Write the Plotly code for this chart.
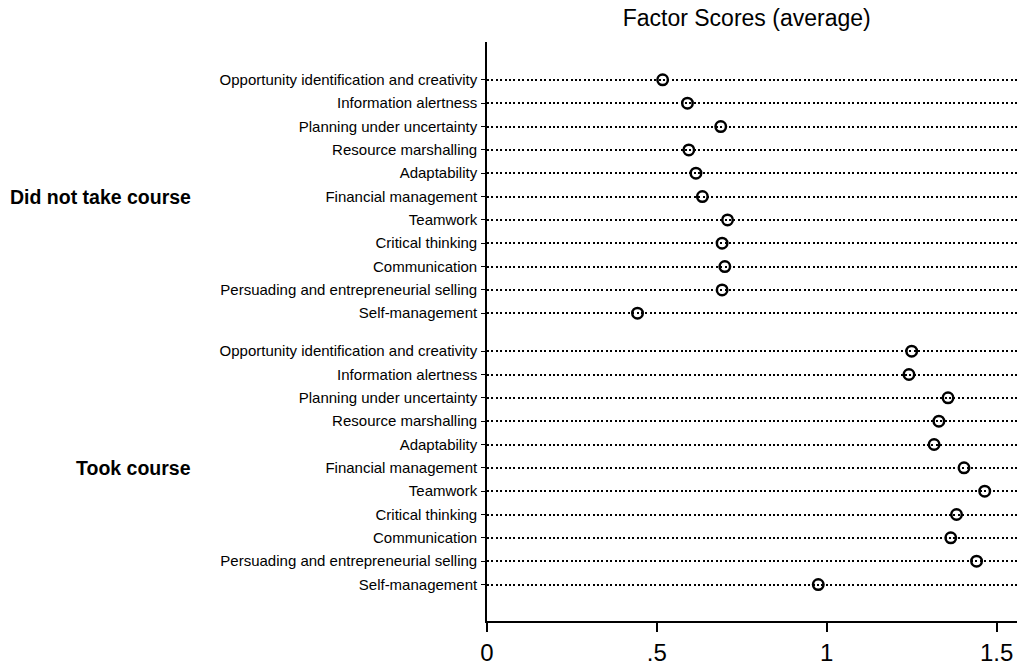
import plotly.graph_objects as go

factors = [
    "Opportunity identification and creativity",
    "Information alertness",
    "Planning under uncertainty",
    "Resource marshalling",
    "Adaptability",
    "Financial management",
    "Teamwork",
    "Critical thinking",
    "Communication",
    "Persuading and entrepreneurial selling",
    "Self-management",
]
groups = ["Did not take course", "Took course"]
did_not_take = [0.517, 0.590, 0.688, 0.594, 0.615, 0.634, 0.708, 0.692, 0.700, 0.692, 0.443]
took_course = [1.250, 1.242, 1.357, 1.330, 1.316, 1.404, 1.465, 1.382, 1.365, 1.441, 0.975]
x_ticks = [0, 0.5, 1, 1.5]
x_tick_labels = ["0", ".5", "1", "1.5"]
title_text = "Factor Scores (average)"

FONT = "Liberation Sans, Arial, Helvetica, sans-serif"
n = len(factors)
group_offset = 11.627  # row units between first rows of the two groups

ypos, ylabels, xs = [], [], []
for g, vals in enumerate([did_not_take, took_course]):
    for i, (f, v) in enumerate(zip(factors, vals)):
        ypos.append(g * group_offset + i)
        ylabels.append(f)
        xs.append(v)

fig = go.Figure()
fig.add_trace(go.Scatter(
    x=xs, y=ypos, mode="markers",
    marker=dict(symbol="circle-open", size=10.5, color="black",
                line=dict(width=2.5, color="black")),
    showlegend=False, hoverinfo="x+y",
))

last = ypos[-1]
fig.update_layout(
    width=1017, height=666,
    margin=dict(l=487, r=0, t=42, b=43, pad=0),
    paper_bgcolor="white", plot_bgcolor="white",
    font=dict(family=FONT, color="black"),
    title=dict(text=title_text, x=0.49, xref="paper", xanchor="center",
               y=1 - 18 / 666, yref="container", yanchor="middle",
               font=dict(size=23, family=FONT, color="black")),
    xaxis=dict(range=[0, 1.56], tickvals=x_ticks, ticktext=x_tick_labels,
               showgrid=False, zeroline=False, showline=True,
               linecolor="black", linewidth=1.6, ticks="outside", ticklen=9,
               tickwidth=1.6, tickcolor="black",
               tickfont=dict(size=24, family=FONT, color="black")),
    yaxis=dict(range=[last + 1.563, -1.623], tickvals=ypos, ticktext=ylabels,
               showgrid=True, gridcolor="black", gridwidth=2,
               griddash="2px,2.4px", zeroline=False, showline=True,
               linecolor="black", linewidth=1.6, ticks="outside", ticklen=4,
               tickwidth=1.2, tickcolor="black", ticklabelstandoff=1,
               tickfont=dict(size=15, family=FONT, color="black")),
)

for g, name in enumerate(groups):
    mid = g * group_offset + (n - 1) / 2
    fig.add_annotation(text="<b>%s</b>" % name, xref="paper", yref="y",
                       x=(193 - 487) / 530, y=mid, xanchor="right",
                       yanchor="middle", showarrow=False,
                       font=dict(size=19.5, family=FONT, color="black"))

fig.write_html("out.html",
               config={"displayModeBar": False},
               post_script="document.body.style.margin='0';"
                           "document.body.style.overflow='hidden';")
